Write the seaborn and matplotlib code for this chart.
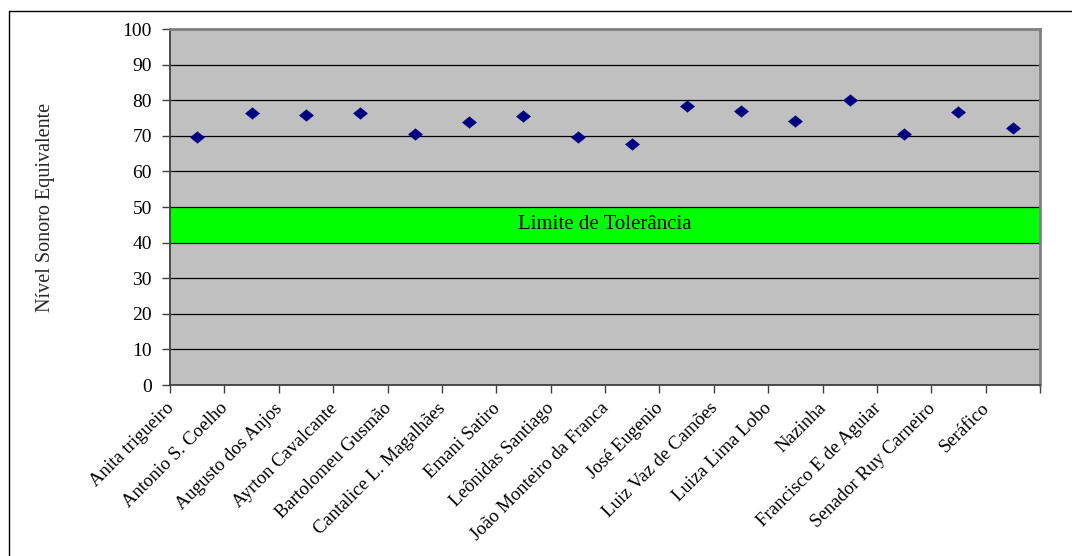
import matplotlib
matplotlib.use("Agg")
import matplotlib.pyplot as plt
import matplotlib.transforms as mtransforms
from matplotlib.lines import Line2D
from matplotlib.path import Path
import numpy as np
import pandas as pd
import seaborn as sns

# Measured equivalent sound level per school
escolas = [
    "Anita trigueiro", "Antonio S. Coelho", "Augusto dos Anjos", "Ayrton Cavalcante",
    "Bartolomeu Gusmão", "Cantalice L. Magalhães", "Emani Satiro", "Leônidas Santiago",
    "João Monteiro da Franca", "José Eugenio", "Luiz Vaz de Camões", "Luiza Lima Lobo",
    "Nazinha", "Francisco E de Aguiar", "Senador Ruy Carneiro", "Seráfico",
]
nivel = [69.8, 76.3, 75.8, 76.3, 70.5, 73.8, 75.5, 69.8,
         67.7, 78.4, 77.1, 74.2, 80.0, 70.5, 76.7, 72.2]

# Tolerance band
limite_inf = 40
limite_sup = 50
limite_texto = "Limite de Tolerância"

y_ticks = list(range(0, 101, 10))

df = pd.DataFrame({"escola": escolas, "nivel": nivel})

sns.set_theme(style="white")
plt.rcParams["font.family"] = ["Liberation Serif", "DejaVu Serif"]

W, H = 1072, 556
fig = plt.figure(figsize=(W / 100, H / 100), dpi=100)
ax = fig.add_axes([170 / W, 1 - 385 / H, (1040 - 170) / W, (385 - 29) / H])
ax.set_facecolor("#C0C0C0")

# wide, flat diamond marker
diamond = Path([(-1.0, 0.0), (0.0, 0.82), (1.0, 0.0), (0.0, -0.82), (-1.0, 0.0)],
               [Path.MOVETO, Path.LINETO, Path.LINETO, Path.LINETO, Path.CLOSEPOLY])

ax.axhspan(limite_inf, limite_sup, color="#00FF00", zorder=0.4, lw=0)
ax.set_axisbelow(True)
ax.yaxis.grid(True, color="#000000", lw=0.9)
ax.xaxis.grid(False)

sns.scatterplot(data=df, x="escola", y="nivel", marker=diamond, s=105,
                color="#000080", edgecolor="#000080", linewidth=0.3, ax=ax, zorder=3)

n = len(escolas)
ax.set_xlim(-0.5, n - 0.5)
ax.set_ylim(0, 100)
ax.set_yticks(y_ticks)
ax.set_yticklabels([str(v) for v in y_ticks], fontsize=14, color="#000000")
ax.tick_params(axis="y", direction="out", length=6, width=1, color="#404040",
               pad=7, left=True)

# category labels centred, tick marks on category boundaries
ax.set_xticks(range(n))
ax.set_xticklabels(escolas, fontsize=13.5, rotation=45, ha="right", va="center",
                   rotation_mode="anchor", color="#000000")
ax.set_xticks(np.arange(-0.5, n, 1.0), minor=True)
ax.tick_params(axis="x", which="major", length=0, pad=15)
ax.tick_params(axis="x", which="minor", direction="out", length=6, width=1,
               color="#404040", bottom=True)
off = mtransforms.ScaledTranslation(-0.26, 0, fig.dpi_scale_trans)
for lbl in ax.get_xticklabels():
    lbl.set_transform(lbl.get_transform() + off)

ax.set_xlabel("")
ax.set_ylabel("Nível Sonoro Equivalente", fontsize=14.5)
ax.yaxis.set_label_coords(-(170 - 55) / (1040 - 170), 0.5)

for side, col, lw in [("left", "#404040", 1.3), ("bottom", "#404040", 1.3),
                      ("top", "#808080", 2.0), ("right", "#808080", 2.0)]:
    ax.spines[side].set_visible(True)
    ax.spines[side].set_color(col)
    ax.spines[side].set_linewidth(lw)

ax.text((n - 1) / 2, (limite_inf + limite_sup) / 2, limite_texto,
        ha="center", va="center", fontsize=15, color="#000000", zorder=4)

# chart frame (left and top edges)
fig.add_artist(Line2D([9 / W, 9 / W], [0, 1 - 11 / H], transform=fig.transFigure,
                      color="#000000", lw=1.0))
fig.add_artist(Line2D([9 / W, 1], [1 - 11 / H, 1 - 11 / H], transform=fig.transFigure,
                      color="#000000", lw=1.0))

fig.savefig("out.png", dpi=100, facecolor="white")
